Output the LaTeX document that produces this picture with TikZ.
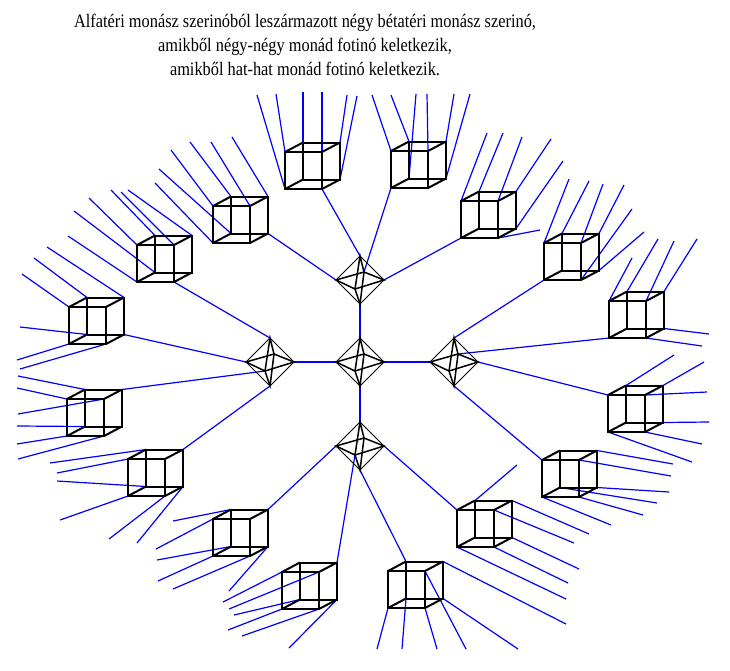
\documentclass[tikz,border=0pt]{standalone}
\usepackage{fontspec}
\setmainfont{Liberation Serif}
\newfontfamily\titlefont{Liberation Serif}[FakeStretch=0.86]
\usetikzlibrary{calc}
\pgfdeclarelayer{bg}
\pgfsetlayers{bg,main}

\begin{document}
\begin{tikzpicture}[x=1pt, y=-1pt,
		cubeline/.style={black, line width=2pt},
		octline/.style={black, line width=0.9pt},
		octinner/.style={black, line width=1.5pt},
		ray/.style={blue, line width=1.2pt},
		link/.style={blue, line width=1.2pt},
		stem/.style={blue, line width=2pt}]
	\useasboundingbox (0,0) rectangle (730,670);

	\node[font=\titlefont\fontsize{19}{24}\selectfont, align=center, inner sep=0pt] (title) at (305,45)
		{Alfatéri monász szerinóból leszármazott négy bétatéri monász szerinó,\\
		amikből négy-négy monád fotinó keletkezik,\\
		amikből hat-hat monád fotinó keletkezik.};

	% octahedra
	\foreach \o/\x/\y in {octC/360/362, octT/360/280, octL/270/362, octR/454/362, octB/360/446}
	{
		\coordinate (\o-T) at (\x,\y-24);
		\coordinate (\o-B) at (\x,\y+24);
		\coordinate (\o-L) at (\x-24,\y);
		\coordinate (\o-R) at (\x+24,\y);
		\coordinate (\o-K) at (\x+4,\y-8);
		\coordinate (\o-F) at (\x-5,\y+9);
		\draw[octline] (\o-T) -- (\o-R) -- (\o-B) -- (\o-L) -- cycle;
		\draw[octinner] (\o-L) -- (\o-K) -- (\o-R) -- (\o-F) -- cycle;
		\draw[octinner] (\o-T) -- (\o-K) -- (\o-B) -- (\o-F) -- cycle;
	}
	\begin{pgfonlayer}{bg}
		\foreach \a/\b in {octC-T/octT-B, octC-L/octL-R, octC-R/octR-L, octC-B/octB-T}
			\draw[stem] (\a) -- (\b);
	\end{pgfonlayer}

	% cubes: name/corner/joint/octahedron vertex/rays
	\foreach \n/\x/\y/\j/\t/\rays in {
		c1/213/243/BBR/octT-L/{BTL/190/142, FTR/211/142, BTR/232/137, FTL/171/150, BBL/159/169, FBL/155/183},
		c2/137/282/FBR/octL-T/{BTR/128/190, FTR/121/192, BTL/111/190, FTL/89/198, BBL/74/211, FBL/68/236},
		c3/69/344/BBR/octL-L/{FTL/22/274, BTL/34/258, BTR/47/247, BBL/20/327, FBL/17/360, FBR/20/369},
		c4/67/436/BTR/octL-F/{BTL/18/376, FTL/17/388, FTR/18/414, BBL/17/426, FBL/17/444, FBR/18/459},
		c5/128/496/BTR/octL-B/{BTL/50/463, FTL/57/473, BBL/57/481, FBL/60/520, FBR/109/539, BBR/137/543},
		c6/213/556/BTR/octB-L/{BTL/173/521, FTL/156/549, BBL/157/560, FBL/158/581, FBR/173/589, BBR/229/591},
		c7/282/609/BTR/octB-F/{FTL/223/602, FTR/229/609, BBL/234/615, FBL/228/630, FBR/242/636, BBR/289/648},
		c8/388/608/BTL/octB-B/{FBL/377/649, BBL/402/649, FBR/437/649, FTR/466/649, BBR/518/649, BTR/566/624},
		c9/457/547/FTL/octB-R/{BTL/517/465, BTR/589/534, FTR/574/543, BBR/579/569, FBR/568/583, FBL/566/599},
		c10/542/497/FTL/octR-B/{BTR/673/464, FTR/671/476, BBR/669/492, BBL/657/503, FBR/643/515, FBL/611/525},
		c11/608/432/FTL/octR-R/{BTL/674/355, BTR/704/362, FTR/707/392, BBR/709/422, FBR/702/444, FBL/692/462},
		c12/609/338/FBL/octR-K/{FTL/632/258, BTL/658/239, FTR/674/241, BTR/697/239, BBR/709/334, FBR/702/346},
		c13/544/280/FBL/octR-T/{FTL/569/179, BTL/589/181, FTR/603/184, BTR/624/185, FBR/632/209, BBR/644/232},
		c14/461/238/FBL/octT-R/{FTL/487/133, BTL/503/133, FTR/522/137, BTR/551/139, BBR/563/161, FBR/540/230},
		c15/391/188/FBL/octT-K/{FTL/372/95, BTL/391/95, BBL/416/94, FTR/427/94, BTR/454/94, BBR/470/94},
		c16/285/189/FBR/octT-T/{FBL/257/95, FTL/276/94, BTL/303/92, FTR/322/92, BTR/347/95, BBR/357/96}}
	{
		\coordinate (\n-FBL) at (\x,\y);
		\coordinate (\n-FBR) at (\x+37,\y);
		\coordinate (\n-FTL) at (\x,\y-37);
		\coordinate (\n-FTR) at (\x+37,\y-37);
		\coordinate (\n-BBL) at (\x+18,\y-9.5);
		\coordinate (\n-BBR) at (\x+55,\y-9.5);
		\coordinate (\n-BTL) at (\x+18,\y-46.5);
		\coordinate (\n-BTR) at (\x+55,\y-46.5);
		\draw[cubeline] (\n-FBL) -- (\n-FBR) -- (\n-FTR) -- (\n-FTL) -- cycle;
		\draw[cubeline] (\n-BBL) -- (\n-BBR) -- (\n-BTR) -- (\n-BTL) -- cycle;
		\draw[cubeline] (\n-FBL) -- (\n-BBL) (\n-FBR) -- (\n-BBR)
			(\n-FTR) -- (\n-BTR) (\n-FTL) -- (\n-BTL);
		\begin{pgfonlayer}{bg}
			\draw[link] (\n-\j) -- (\t);
			\foreach \c/\ex/\ey in \rays
			{
				\coordinate (\n-\c-end) at (\ex,\ey);
				\draw[ray] (\n-\c) -- (\n-\c-end);
			}
		\end{pgfonlayer}
	}
\end{tikzpicture}
\end{document}
